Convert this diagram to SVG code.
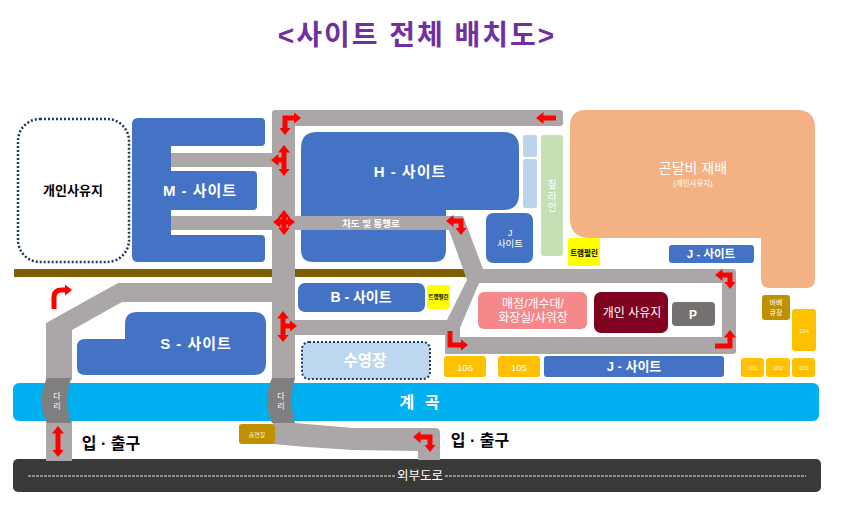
<svg xmlns="http://www.w3.org/2000/svg" width="847" height="508" viewBox="0 0 847 508">
<style>
text{font-family:"Liberation Sans","Noto Sans CJK KR",sans-serif;text-anchor:middle}
.w{fill:#fff}.b{font-weight:bold}
.site{fill:#4472C4}.road{fill:#ABA7A8}
.arr{fill:none;stroke:#F00;stroke-width:5}
.gold{fill:#FFC000}.tiny{font-size:6px;fill:#FFF2CC}
</style>
<defs>
<marker id="a" viewBox="0 0 10 10" preserveAspectRatio="none" refX="2" refY="5" markerWidth="1.500" markerHeight="2.400" orient="auto-start-reverse"><path d="M0 0L10 5L0 10z" fill="#F00"/></marker>
</defs>
<rect width="847" height="508" fill="#fff"/>
<text id="title" x="417" y="45" font-size="28" font-weight="bold" fill="#7030A0" letter-spacing="2">&lt;사이트 전체 배치도&gt;</text>
<rect id="fence" x="14" y="269" width="452" height="8" fill="#7F6000"/>
<g id="stream"><rect x="13" y="383" width="806" height="38" rx="6" fill="#00B0F0"/><text class="w b" x="421" y="408" font-size="16" letter-spacing="3">계 곡</text></g>
<g id="outer-road"><rect x="13" y="459" width="808" height="33" rx="5" fill="#3B3838"/></g>
<g id="private-left"><rect x="18" y="119" width="111" height="143" rx="22" fill="#fff" stroke="#1F3864" stroke-width="2.500" stroke-dasharray="2 2"/><text x="73" y="195" font-size="13" font-weight="bold">개인사유지</text></g>
<g id="m-site"><path class="site" d="M138 118H261Q265 118 265 122V142Q265 146 261 146H171V171H253Q257 171 257 175V206Q257 210 253 210H171V235H261Q265 235 265 239V258Q265 262 261 262H138Q132 262 132 256V124Q132 118 138 118Z"/><text class="w b" x="200" y="196" font-size="15" letter-spacing="1">M - 사이트</text></g>
<g id="h-site"><path class="site" d="M317 132H503Q519 132 519 148V194Q519 210 503 210H446V250Q446 262 434 262H313Q301 262 301 250V148Q301 132 317 132Z"/><text class="w b" x="410" y="177" font-size="15" letter-spacing="1">H - 사이트</text></g>
<g id="h-annex"><rect x="523" y="135" width="14" height="22" rx="2" fill="#BDD3EA"/><rect x="523" y="159" width="14" height="49" rx="2" fill="#BDD3EA"/></g>
<g id="zipline"><rect x="541" y="135" width="22" height="121" rx="3" fill="#C5E0B4"/><text class="w" font-size="10"><tspan x="552" y="188">짚</tspan><tspan x="552" y="200">라</tspan><tspan x="552" y="211">인</tspan></text></g>
<g id="j-site-small"><rect class="site" x="486" y="213" width="47" height="50" rx="7"/><text class="w" font-size="9.500"><tspan x="510" y="236">J</tspan><tspan x="510" y="247">사이트</tspan></text></g>
<g id="gondalbi"><path fill="#F4B183" d="M586 110H797Q815 110 815 128V279Q815 288 806 288H770Q761 288 761 279V238H590Q570 238 570 218V126Q570 110 586 110Z"/><text class="w" x="693" y="173" font-size="14">곤달비 재배</text><text class="w" x="693" y="186" font-size="7.500">(개인사유지)</text></g>
<g id="trampoline-1"><rect x="568" y="238" width="32" height="28" rx="2" fill="#FF0"/><text x="584" y="256" font-size="7.500" font-weight="bold">트램펄린</text></g>
<g id="j-site-top"><rect class="site" x="669" y="245" width="85" height="18" rx="3"/><text class="w b" x="711" y="258" font-size="11.500">J - 사이트</text></g>
<g id="b-site"><rect class="site" x="298" y="283" width="127" height="29" rx="7"/><text class="w b" x="361" y="302" font-size="14">B - 사이트</text></g>
<g id="trampoline-2"><rect x="427" y="285" width="23" height="24" rx="3" fill="#FF0"/><text x="438.500" y="299" font-size="5.500" font-weight="bold">트램펄린</text></g>
<g id="store"><rect x="478" y="292" width="109" height="37" rx="6" fill="#F4888A"/><text class="w" font-size="12"><tspan x="533" y="308">매점/개수대/</tspan><tspan x="533" y="322">화장실/샤워장</tspan></text></g>
<g id="private-mid"><rect x="594" y="292" width="74" height="41" rx="7" fill="#800020"/><text class="w" x="632" y="317" font-size="12">개인 사유지</text></g>
<g id="parking"><rect x="672" y="302" width="43" height="24" rx="4" fill="#767171"/><text class="w b" x="693" y="319" font-size="12">P</text></g>
<g id="bbq"><rect x="762" y="295" width="28" height="25" rx="3" fill="#BF9000"/><text class="w" font-size="7"><tspan x="776" y="305">바베</tspan><tspan x="776" y="315">큐장</tspan></text></g>
<g id="s-site"><path class="site" d="M137 312H254Q266 312 266 324V363Q266 375 254 375H85Q77 375 77 367V347Q77 339 85 339H125V324Q125 312 137 312Z"/><text class="w b" x="196" y="349" font-size="15" letter-spacing="1">S - 사이트</text></g>
<g id="pool"><rect x="302" y="342" width="128" height="37" rx="7" fill="#BDD7EE" stroke="#1F3864" stroke-width="2" stroke-dasharray="2 2"/><text class="w b" x="365" y="366" font-size="15.500">수영장</text></g>
<g id="site-106"><rect class="gold" x="444" y="356" width="42" height="21" rx="3"/><text class="w" x="465" y="371" font-size="9.500">106</text></g>
<g id="site-105"><rect class="gold" x="498" y="356" width="42" height="21" rx="3"/><text class="w" x="519" y="371" font-size="9.500">105</text></g>
<g id="j-site-bottom"><rect class="site" x="544" y="356" width="180" height="21" rx="3"/><text class="w b" x="634" y="371" font-size="13">J - 사이트</text></g>
<g id="site-104"><rect class="gold" x="792" y="309" width="24" height="42" rx="3"/><text class="tiny" x="804" y="333">104</text></g>
<g id="site-101"><rect class="gold" x="741" y="358" width="23" height="19" rx="3"/><text class="tiny" x="752.500" y="370">101</text></g>
<g id="site-102"><rect class="gold" x="766" y="358" width="24" height="19" rx="3"/><text class="tiny" x="778" y="370">102</text></g>
<g id="site-103"><rect class="gold" x="792" y="358" width="23" height="19" rx="3"/><text class="tiny" x="803.500" y="370">103</text></g>
<g id="connectors">
<g id="roads">
<path class="road" d="M272 380V113Q272 110 275 110H560Q563 110 563 113V123Q563 126 560 126H295V380Z"/>
<rect class="road" x="171" y="153" width="102" height="14"/>
<rect class="road" x="171" y="216" width="276" height="14"/>
<path class="road" fill-rule="evenodd" d="M446 216H463L483 269H733Q736 269 736 272V351Q736 354 733 354H445V335H295V320H447L467 280L449 230H446ZM479 283H722V337H460V328Z"/>
<path class="road" d="M46 380V323L118 283H273V302H122L72 330V380Z"/>
<rect class="road" x="46" y="421" width="26" height="40"/>
<path class="road" d="M273 423H295L353 428H435Q440 428 440 433V460H418V451L353 450L307 447L273 444Z"/>
</g>
<text x="371" y="227" class="w b" font-size="9.500">차도 및 통행로</text>
<g id="arrows">
<path class="arr" marker-start="url(#a)" marker-end="url(#a)" d="M285 129V118H295"/>
<path class="arr" marker-start="url(#a)" marker-end="url(#a)" d="M284 151V170"/>
<path class="arr" marker-end="url(#a)" d="M284 160H277"/>
<path class="arr" marker-start="url(#a)" marker-end="url(#a)" d="M284 216V229"/>
<path class="arr" marker-start="url(#a)" marker-end="url(#a)" d="M279 222H289"/>
<path class="arr" marker-end="url(#a)" d="M556 118H542"/>
<path class="arr" marker-start="url(#a)" marker-end="url(#a)" d="M452 221H461V229"/>
<path class="arr" marker-start="url(#a)" marker-end="url(#a)" d="M721 275H730V283"/>
<path class="arr" marker-end="url(#a)" d="M715 346H730V336"/>
<path class="arr" marker-end="url(#a)" d="M450 331V345H462"/>
<path class="arr" marker-start="url(#a)" marker-end="url(#a)" d="M283 317V336"/>
<path class="arr" marker-end="url(#a)" d="M283 326H291"/>
<path class="arr" marker-end="url(#a)" d="M54 309V297Q54 290 62 290H66"/>
<path class="arr" marker-start="url(#a)" marker-end="url(#a)" d="M58 432V451"/>
<path class="arr" marker-start="url(#a)" marker-end="url(#a)" d="M419 437H430V446"/>
</g>
</g>
<g id="bridge-1"><path fill="#7F7F7F" d="M47 378H71Q64 400 71 423H47Q36 400 47 378Z"/><text class="w" font-size="8"><tspan x="57" y="399">다</tspan><tspan x="57" y="409">리</tspan></text></g>
<g id="bridge-2"><path fill="#7F7F7F" d="M272 378H295Q288 400 295 423H272Q262 400 272 378Z"/><text class="w" font-size="8"><tspan x="281" y="399">다</tspan><tspan x="281" y="409">리</tspan></text></g>
<g id="smoking"><rect x="239" y="424" width="36" height="20" rx="3" fill="#BF9000"/><text class="tiny" x="257" y="437">흡연장</text></g>
<text id="entry-1" x="111" y="449" font-size="16" font-weight="bold">입 · 출구</text>
<text id="entry-2" x="480" y="446" font-size="16" font-weight="bold">입 · 출구</text>
<g id="outer-road-label"><path d="M28 476H395M445 476H806" stroke="#E7E6E6" stroke-width="1" stroke-dasharray="3 1" fill="none"/><text class="w" x="420" y="480" font-size="12.500">외부도로</text></g>
</svg>
